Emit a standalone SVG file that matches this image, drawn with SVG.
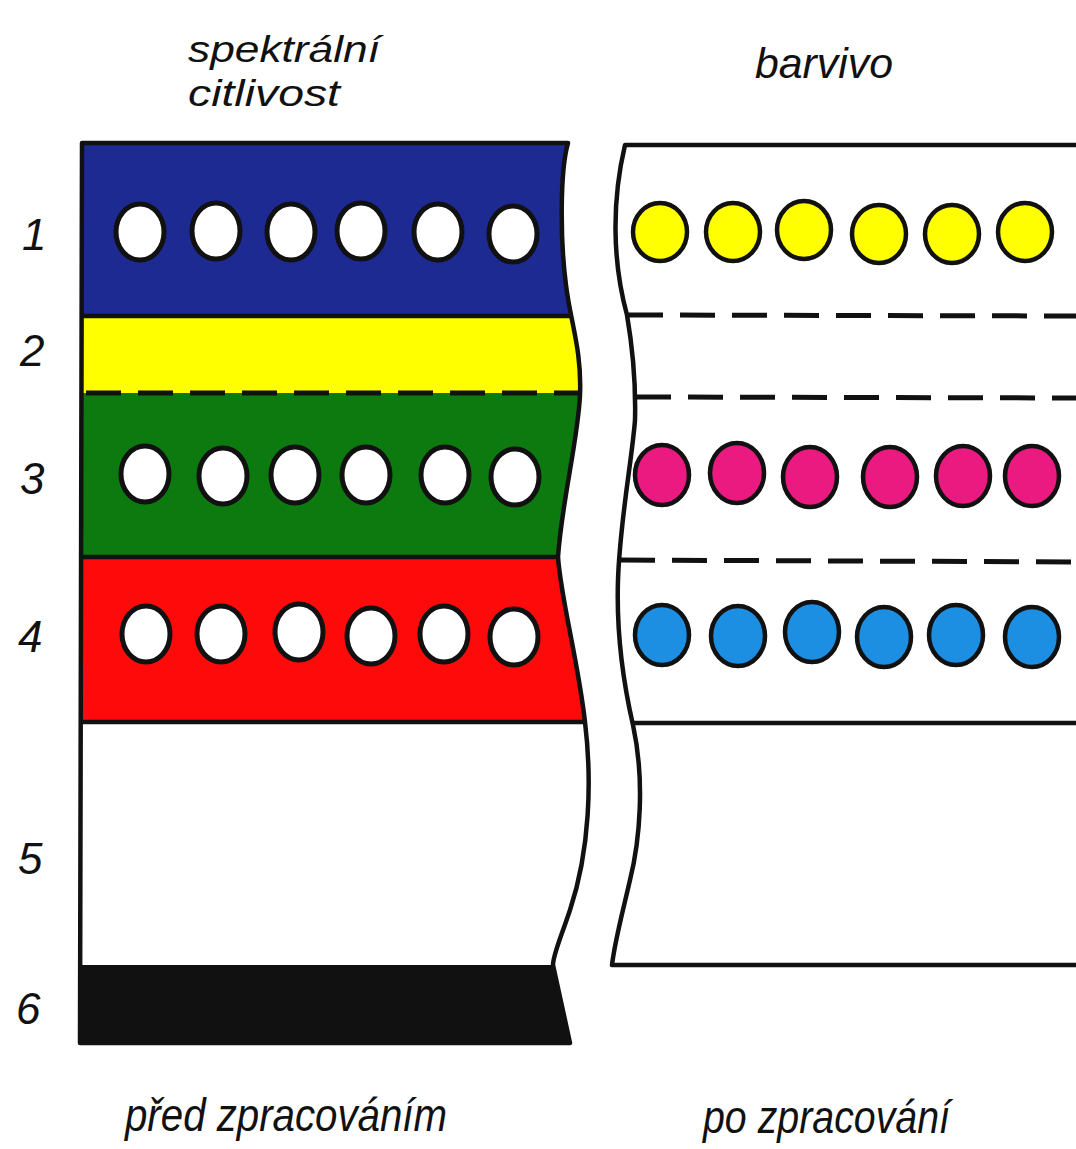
<svg xmlns="http://www.w3.org/2000/svg" width="1076" height="1149" viewBox="0 0 1076 1149">
<style>
.lbl{font-family:"Liberation Sans","DejaVu Sans",sans-serif;font-style:italic;fill:#111;}
.num{font-family:"Liberation Sans","DejaVu Sans",sans-serif;font-style:italic;font-size:44px;fill:#111;}
.edge{fill:none;stroke:#111;stroke-width:4.5;stroke-linejoin:round;stroke-linecap:round;}
.sep{stroke:#111;stroke-width:4.5;}
.dash{stroke:#111;stroke-width:5;stroke-dasharray:35 17;}
.hole{fill:#fff;stroke:#111;stroke-width:5;}
.dot{stroke:#111;stroke-width:4.5;}
</style>
<defs>
<clipPath id="leftClip">
<path d="M82,143 L568,143 C560,170 560,240 566,285 C570,320 582,350 580,395 C578,440 562,500 558,557 C561,600 578,660 585,722 C592,780 590,850 570,910 C560,940 553,955 553,965 L570,1043 L80,1043 Z"/>
</clipPath>
</defs>
<rect width="1076" height="1149" fill="#fff"/>

<g id="left-film" clip-path="url(#leftClip)">
<rect x="70" y="140" width="540" height="176" fill="#1c2a92"/>
<rect x="70" y="316" width="540" height="77" fill="#ffff00"/>
<rect x="70" y="393" width="540" height="164" fill="#0d7a10"/>
<rect x="70" y="557" width="540" height="165" fill="#ff0a0a"/>
<rect x="70" y="722" width="540" height="243" fill="#fff"/>
<rect x="70" y="965" width="540" height="80" fill="#111"/>
<line class="sep" x1="70" y1="316" x2="610" y2="316"/>
<line class="dash" x1="86" y1="393" x2="610" y2="393"/>
<line class="sep" x1="70" y1="557" x2="610" y2="557"/>
<line class="sep" x1="70" y1="722" x2="610" y2="722"/>
</g>
<path id="left-outline" class="edge" d="M82,143 L568,143 C560,170 560,240 566,285 C570,320 582,350 580,395 C578,440 562,500 558,557 C561,600 578,660 585,722 C592,780 590,850 570,910 C560,940 553,955 553,965 L570,1043 L80,1043 Z"/>

<g id="layer1-holes">
<ellipse class="hole" cx="140" cy="232" rx="24" ry="28"/>
<ellipse class="hole" cx="216" cy="231" rx="24" ry="28"/>
<ellipse class="hole" cx="291" cy="232" rx="24" ry="28"/>
<ellipse class="hole" cx="361" cy="231" rx="24" ry="28"/>
<ellipse class="hole" cx="438" cy="232" rx="24" ry="28"/>
<ellipse class="hole" cx="513" cy="234" rx="24" ry="28"/>
</g>
<g id="layer3-holes">
<ellipse class="hole" cx="145" cy="474" rx="24" ry="28"/>
<ellipse class="hole" cx="223" cy="476" rx="24" ry="28"/>
<ellipse class="hole" cx="295" cy="475" rx="24" ry="28"/>
<ellipse class="hole" cx="366" cy="475" rx="24" ry="28"/>
<ellipse class="hole" cx="445" cy="475" rx="24" ry="28"/>
<ellipse class="hole" cx="515" cy="477" rx="24" ry="28"/>
</g>
<g id="layer4-holes">
<ellipse class="hole" cx="146" cy="634" rx="24" ry="28"/>
<ellipse class="hole" cx="221" cy="634" rx="24" ry="28"/>
<ellipse class="hole" cx="299" cy="632" rx="24" ry="28"/>
<ellipse class="hole" cx="371" cy="636" rx="24" ry="28"/>
<ellipse class="hole" cx="444" cy="634" rx="24" ry="28"/>
<ellipse class="hole" cx="514" cy="637" rx="24" ry="28"/>
</g>

<g id="right-film">
<path class="edge" d="M1080,145 L625,145 C612,200 612,260 627,315 C633,350 636,380 635,420 C632,460 620,520 618,580 C616,640 625,690 633,725 C645,780 640,840 630,880 C622,915 615,940 612,965 L1080,965"/>
<line class="dash" x1="628" y1="315" x2="1080" y2="316"/>
<line class="dash" x1="636" y1="397" x2="1080" y2="398"/>
<line class="dash" x1="620" y1="560" x2="1080" y2="562"/>
<line class="sep" x1="632" y1="723" x2="1080" y2="723"/>
</g>
<g id="yellow-dye">
<ellipse class="dot" fill="#ffff00" cx="660" cy="232" rx="27" ry="29"/>
<ellipse class="dot" fill="#ffff00" cx="733" cy="232" rx="27" ry="29"/>
<ellipse class="dot" fill="#ffff00" cx="804" cy="230" rx="27" ry="29"/>
<ellipse class="dot" fill="#ffff00" cx="879" cy="234" rx="27" ry="29"/>
<ellipse class="dot" fill="#ffff00" cx="952" cy="234" rx="27" ry="29"/>
<ellipse class="dot" fill="#ffff00" cx="1025" cy="232" rx="27" ry="29"/>
</g>
<g id="magenta-dye">
<ellipse class="dot" fill="#ea1a80" cx="662" cy="475" rx="27" ry="30"/>
<ellipse class="dot" fill="#ea1a80" cx="737" cy="473" rx="27" ry="30"/>
<ellipse class="dot" fill="#ea1a80" cx="810" cy="477" rx="27" ry="30"/>
<ellipse class="dot" fill="#ea1a80" cx="890" cy="477" rx="27" ry="30"/>
<ellipse class="dot" fill="#ea1a80" cx="963" cy="476" rx="27" ry="30"/>
<ellipse class="dot" fill="#ea1a80" cx="1032" cy="476" rx="27" ry="30"/>
</g>
<g id="cyan-dye">
<ellipse class="dot" fill="#1c8fe2" cx="662" cy="635" rx="27" ry="30"/>
<ellipse class="dot" fill="#1c8fe2" cx="738" cy="636" rx="27" ry="30"/>
<ellipse class="dot" fill="#1c8fe2" cx="812" cy="632" rx="27" ry="30"/>
<ellipse class="dot" fill="#1c8fe2" cx="884" cy="637" rx="27" ry="30"/>
<ellipse class="dot" fill="#1c8fe2" cx="956" cy="635" rx="27" ry="30"/>
<ellipse class="dot" fill="#1c8fe2" cx="1032" cy="637" rx="27" ry="30"/>
</g>

<g id="labels">
<text class="lbl" x="188" y="62" font-size="37" textLength="192" lengthAdjust="spacingAndGlyphs">spektrální</text>
<text class="lbl" x="188" y="106" font-size="37" textLength="152" lengthAdjust="spacingAndGlyphs">citlivost</text>
<text class="lbl" x="755" y="78" font-size="42" textLength="138" lengthAdjust="spacingAndGlyphs">barvivo</text>
<text class="lbl" x="125" y="1131" font-size="46" textLength="322" lengthAdjust="spacingAndGlyphs">před zpracováním</text>
<text class="lbl" x="703" y="1133" font-size="46" textLength="247" lengthAdjust="spacingAndGlyphs">po zpracování</text>
</g>
<g id="layer-numbers">
<text class="num" x="22" y="250">1</text>
<text class="num" x="20" y="366">2</text>
<text class="num" x="20" y="494">3</text>
<text class="num" x="18" y="652">4</text>
<text class="num" x="18" y="874">5</text>
<text class="num" x="16" y="1024">6</text>
</g>
</svg>
